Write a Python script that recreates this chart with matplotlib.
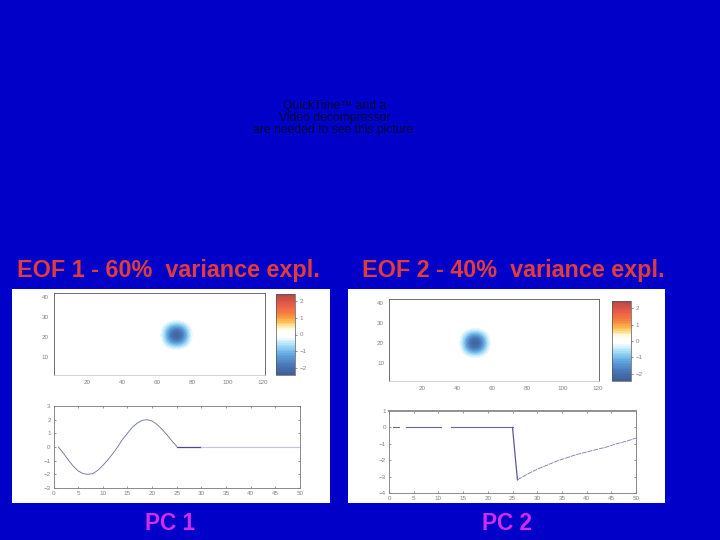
import numpy as np
import matplotlib
matplotlib.use('Agg')
import matplotlib.pyplot as plt
from matplotlib.colors import LinearSegmentedColormap

plt.rcParams['font.family'] = ['Liberation Sans', 'DejaVu Sans']

# blob values (coarse grid, smoothed by imshow)
eof_patch = [
    [0.0, 0.0, 0.0, 0.0, 0.0, 0.0, 0.0, 0.0, 0.0],
    [0.0, 0.0, -0.1, -0.25, -0.3, -0.25, -0.1, 0.0, 0.0],
    [0.0, -0.1, -0.55, -1.0, -1.2, -1.0, -0.55, -0.1, 0.0],
    [0.0, -0.25, -1.0, -1.8, -2.15, -1.8, -1.0, -0.25, 0.0],
    [0.0, -0.3, -1.2, -2.15, -2.45, -2.15, -1.2, -0.3, 0.0],
    [0.0, -0.25, -1.0, -1.8, -2.15, -1.8, -1.0, -0.25, 0.0],
    [0.0, -0.1, -0.55, -1.0, -1.2, -1.0, -0.55, -0.1, 0.0],
    [0.0, 0.0, -0.1, -0.25, -0.3, -0.25, -0.1, 0.0, 0.0],
    [0.0, 0.0, 0.0, 0.0, 0.0, 0.0, 0.0, 0.0, 0.0],
]
eof1_center = (71, 21)
eof2_center = (50, 20)
eof_halfwidth = (12, 10)

map_xticks = [20, 40, 60, 80, 100, 120]
map_yticks = [10, 20, 30, 40]
cbar_ticks = [-2, -1, 0, 1, 2]

pc1_t = [1, 2, 3, 4, 5, 6, 7, 8, 9, 10, 11, 12, 13, 14, 15, 16, 17, 18, 19, 20, 21, 22, 23, 24, 25]
pc1_v = [0.0, -0.45, -0.95, -1.4, -1.75, -1.95, -2.0, -1.95, -1.7, -1.35, -0.95, -0.5, 0.0, 0.55, 1.0, 1.45, 1.75, 1.95, 2.0, 1.9, 1.65, 1.3, 0.9, 0.45, 0.05]
pc1_dark_t = [25, 30]
pc1_dark_v = [0.0, 0.0]
pc1_light_t = [30, 50]
pc1_light_v = [0.0, 0.0]

pc2_flat_parts = [([0.8, 2], [0.0, 0.0]), ([3.5, 10.5], [0.02, 0.02]), ([12.5, 25], [0.0, 0.0])]
pc2_drop_t = [25, 25.5, 26]
pc2_drop_v = [0.0, -1.6, -3.2]
pc2_rise_t = [26, 28, 30, 32, 34, 36, 38, 40, 42, 44, 46, 48, 50]
pc2_rise_v = [-3.2, -2.85, -2.55, -2.3, -2.05, -1.85, -1.65, -1.5, -1.35, -1.2, -1.0, -0.85, -0.65]

titles = ['EOF 1 - 60%  variance expl.', 'EOF 2 - 40%  variance expl.']
pc_labels = ['PC 1', 'PC 2']
missing_movie = ['QuickTime\u2122 and a', 'Video decompressor', 'are needed to see this picture.']

W, H = 720, 540
BLUE = '#0000c8'
RED = '#e03c3c'
MAGENTA = '#d22cf0'
TICK = '#808080'

cmap = LinearSegmentedColormap.from_list('eof', [
    (0.0, '#3f5f96'), (0.12, '#4a78b8'), (0.25, '#62a8e0'), (0.37, '#a8e0f8'),
    (0.47, '#ffffff'), (0.53, '#ffffff'), (0.58, '#fff8d0'), (0.66, '#fdc050'),
    (0.76, '#f88040'), (0.88, '#e85a48'), (1.0, '#b84848')], N=48)


def px_axes(x0, y0, x1, y1):
    return fig.add_axes([x0 / W, 1 - y1 / H, (x1 - x0) / W, (y1 - y0) / H])


def panel(x0, y0, x1, y1):
    # white slide panels behind the pasted figures
    p = px_axes(x0, y0, x1, y1)
    p.set_zorder(-1)
    p.set_xticks([])
    p.set_yticks([])
    for s in p.spines.values():
        s.set_visible(False)


def style(ax):
    ax.tick_params(labelsize=4.5, labelcolor=TICK, length=1.5, width=0.4, color='#444444', pad=2)
    for s in ax.spines.values():
        s.set_linewidth(0.6)
        s.set_color('#777777')


def draw_map(box, cbox, center):
    ax = px_axes(*box)
    cx, cy = center
    hx, hy = eof_halfwidth
    im = ax.imshow(eof_patch, extent=[cx - hx, cx + hx, cy - hy, cy + hy], origin='lower',
                   cmap=cmap, vmin=-2.45, vmax=2.45, aspect='auto', interpolation='bicubic')
    ax.set_xlim(1, 121)
    ax.set_ylim(1, 42)
    ax.set_xticks(map_xticks)
    ax.set_yticks(map_yticks)
    style(ax)
    ax.tick_params(bottom=False, left=False)
    ax.spines['top'].set_color('#555555')
    ax.spines['left'].set_color('#555555')
    ax.spines['right'].set_color('#555555')
    ax.spines['bottom'].set_color('#cccccc')
    cax = px_axes(*cbox)
    cb = fig.colorbar(im, cax=cax)
    cb.set_ticks(cbar_ticks)
    style(cax)
    cb.outline.set_linewidth(0.5)
    cb.outline.set_edgecolor('#555555')


fig = plt.figure(figsize=(7.2, 5.4), dpi=100, facecolor=BLUE)

panel(12, 289, 330, 503)
panel(348, 289, 665, 503)

for i, line in enumerate(missing_movie):
    fig.text(335 / W, 1 - (105.5 + 12.5 * i) / H, line, ha='center', va='center', fontsize=8.7, color='#00003a')

fig.text(168.5 / W, 1 - 271 / H, titles[0], ha='center', va='center', fontsize=16.8, fontweight='bold', color=RED)
fig.text(513 / W, 1 - 271 / H, titles[1], ha='center', va='center', fontsize=16.8, fontweight='bold', color=RED)
fig.text(170 / W, 1 - 523 / H, pc_labels[0], ha='center', va='center', fontsize=16.3, fontweight='bold', color=MAGENTA)
fig.text(507 / W, 1 - 523 / H, pc_labels[1], ha='center', va='center', fontsize=16.3, fontweight='bold', color=MAGENTA)

draw_map((53.5, 293, 264.5, 375), (276, 294, 295, 375), eof1_center)
draw_map((389, 299, 599, 381), (612, 301, 631, 381), eof2_center)

ax = px_axes(53.5, 406, 300, 488)
ax.plot(pc1_t, pc1_v, color='#6a6a9a', lw=0.6)
ax.plot(pc1_dark_t, pc1_dark_v, color='#4a4a8a', lw=0.9)
ax.plot(pc1_light_t, pc1_light_v, color='#c4c4dc', lw=0.8)
ax.set_xlim(0, 50)
ax.set_ylim(-3, 3)
ax.set_xticks(range(0, 51, 5))
ax.set_yticks(range(-3, 4))
ax.tick_params(top=True, right=True, direction='in')
style(ax)

ax = px_axes(389, 411, 636, 493)
for t, v in pc2_flat_parts:
    ax.plot(t, v, color='#6a6a9a', lw=0.8)
ax.plot(pc2_drop_t, pc2_drop_v, color='#5a5a9a', lw=0.9)
ax.plot(pc2_rise_t, pc2_rise_v, color='#7a7aa8', lw=0.6, ls=(0, (6, 1)))
ax.set_xlim(0, 50)
ax.set_ylim(-4, 1)
ax.set_xticks(range(0, 51, 5))
ax.set_yticks(range(-4, 2))
ax.tick_params(top=True, right=True, direction='in')
style(ax)
ax.spines['top'].set_linewidth(1.4)
ax.spines['top'].set_color('#909090')

fig.savefig('out.png', dpi=100, facecolor=fig.get_facecolor())
